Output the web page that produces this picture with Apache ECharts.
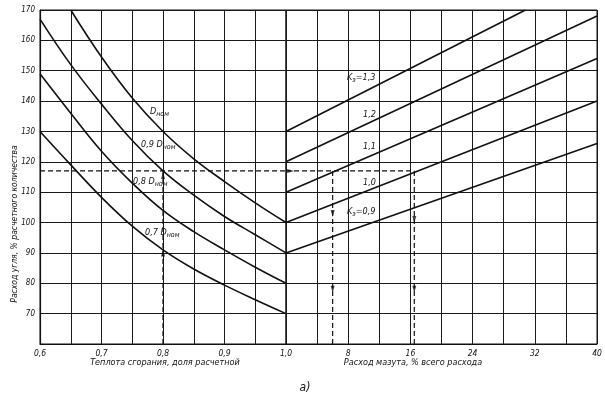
<!DOCTYPE html>
<html><head><meta charset="utf-8">
<script src="https://cdn.jsdelivr.net/npm/echarts@6/dist/echarts.min.js"></script>
<style>html,body{margin:0;padding:0;background:#fff}#c{width:605px;height:404px}</style>
</head><body><div id="c"></div>
<script>
// ---- data ----
const heatX = [0.6, 0.65, 0.7, 0.75, 0.8, 0.85, 0.9, 0.95, 1.0];
const dNom  = [null, 170, 154.5, 141, 130, 121, 113.5, 106.5, 100];
const d09   = [167, 152, 139, 127, 117, 109, 102, 96, 90];
const d08   = [149, 136, 123.5, 113, 104, 97, 91, 85.3, 80];
const d07   = [130, 119, 108.3, 98.8, 91, 84.7, 79.4, 74.6, 70];

const oilPct   = [0, 40];
const k13Pct   = [0, 30.8];
const k13      = [130, 170];
const k12      = [120, 168];
const k11      = [110, 154];
const k10      = [100, 140];
const k09      = [90, 126];

const guideLevel = 117;
const guideHeat  = 0.8;
const guideOil   = [6, 16.5];

// arrowheads on the guide lines: [x, y, direction]
const arrowsLeft  = [[0.8, 115.5, 'up'], [0.8, 90, 'up']];
const arrowsRight = [[6, 103, 'down'], [6, 78, 'down'], [16.5, 101, 'down'], [16.5, 78, 'down'], [0.6, 117, 'right']];

const yTicks = [70, 80, 90, 100, 110, 120, 130, 140, 150, 160, 170];

// ---- helpers ----
const FONT = "'Liberation Sans Narrow','DejaVu Sans Condensed','Liberation Sans',sans-serif";
function pairs(xs, ys) { const r = []; xs.forEach((x, i) => { if (ys[i] != null) r.push([x, ys[i]]); }); return r; }
const curveStyle = { color: '#111', width: 1.6 };
const gridCol = '#1a1a1a';
const ROT = { up: 0, down: 180, right: -90 };

function curve(data, gi, smooth) {
  return { type: 'line', xAxisIndex: gi, yAxisIndex: gi, data: data, smooth: smooth ? 0.4 : false,
           symbol: 'none', lineStyle: curveStyle, silent: true, z: 5 };
}
function guide(data, gi) {
  return { type: 'line', xAxisIndex: gi, yAxisIndex: gi, data: data, symbol: 'none',
           lineStyle: { color: '#111', width: 1.2, type: [5, 3] }, silent: true, z: 4 };
}
function arrows(list, gi) {
  return { type: 'scatter', xAxisIndex: gi, yAxisIndex: gi, symbol: 'triangle', symbolSize: [4, 7],
           itemStyle: { color: '#111' }, silent: true, z: 6,
           data: list.map(a => ({ value: [a[0], a[1]], symbolRotate: ROT[a[2]] })) };
}

const yAxisBase = {
  type: 'value', min: 60, max: 170, interval: 10,
  axisLine: { show: true, lineStyle: { color: '#111', width: 1.2 } },
  axisTick: { show: false },
  splitLine: { show: true, lineStyle: { color: gridCol, width: 1 } }
};

const option = {
  animation: false,
  backgroundColor: '#fff',
  grid: [
    { left: 40, top: 10, width: 246, height: 334, show: true, borderColor: '#111', borderWidth: 1 },
    { left: 286, top: 10, width: 311, height: 334, show: true, borderColor: '#111', borderWidth: 1 }
  ],
  xAxis: [
    { type: 'value', gridIndex: 0, min: 0.6, max: 1.0, interval: 0.05,
      axisLine: { lineStyle: { color: '#111', width: 1.2 } }, axisTick: { show: false },
      splitLine: { show: true, lineStyle: { color: gridCol, width: 1 } },
      axisLabel: { margin: 5, fontSize: 8.5, fontStyle: 'italic', fontFamily: FONT, color: '#111',
        showMaxLabel: true, showMinLabel: true,
        formatter: v => (Math.round(v * 100) % 10 === 0) ? v.toFixed(1).replace('.', ',') : '' } },
    { type: 'value', gridIndex: 1, min: 0, max: 40, interval: 4,
      axisLine: { lineStyle: { color: '#111', width: 1.2 } }, axisTick: { show: false },
      splitLine: { show: true, lineStyle: { color: gridCol, width: 1 } },
      axisLabel: { margin: 5, fontSize: 8.5, fontStyle: 'italic', fontFamily: FONT, color: '#111',
        showMaxLabel: true,
        formatter: v => (v > 0 && v % 8 === 0) ? String(v) : '' } }
  ],
  yAxis: [
    Object.assign({}, yAxisBase, { gridIndex: 0,
      axisLabel: { margin: 5, fontSize: 8, fontStyle: 'italic', fontFamily: FONT, color: '#111',
        formatter: v => yTicks.indexOf(v) >= 0 ? String(v) : '' } }),
    Object.assign({}, yAxisBase, { gridIndex: 1, axisLine: { show: false }, axisLabel: { show: false } })
  ],
  series: [
    curve(pairs(heatX, dNom), 0, true),
    curve(pairs(heatX, d09), 0, true),
    curve(pairs(heatX, d08), 0, true),
    curve(pairs(heatX, d07), 0, true),
    curve(pairs(k13Pct, k13), 1, false),
    curve(pairs(oilPct, k12), 1, false),
    curve(pairs(oilPct, k11), 1, false),
    curve(pairs(oilPct, k10), 1, false),
    curve(pairs(oilPct, k09), 1, false),
    guide([[0.6, guideLevel], [1.0, guideLevel]], 0),
    guide([[guideHeat, 60], [guideHeat, guideLevel]], 0),
    guide([[0, guideLevel], [guideOil[1], guideLevel]], 1),
    guide([[guideOil[0], guideLevel], [guideOil[0], 60]], 1),
    guide([[guideOil[1], guideLevel], [guideOil[1], 60]], 1),
    arrows(arrowsLeft, 0),
    arrows(arrowsRight, 1)
  ],
  graphic: [
    { type: 'text', x: 15, y: 224, rotation: Math.PI / 2,
      style: { text: 'Расход угля, % расчетного количества', font: "italic 8.5px " + FONT, fill: '#111',
               align: 'center', verticalAlign: 'middle', textAlign: 'center', textVerticalAlign: 'middle' } },
    { type: 'text', x: 165, y: 363,
      style: { text: 'Теплота сгорания, доля расчетной', font: "italic 9px " + FONT, fill: '#111',
               align: 'center', verticalAlign: 'middle', textAlign: 'center', textVerticalAlign: 'middle' } },
    { type: 'text', x: 413, y: 363,
      style: { text: 'Расход мазута, % всего расхода', font: "italic 9px " + FONT, fill: '#111',
               align: 'center', verticalAlign: 'middle', textAlign: 'center', textVerticalAlign: 'middle' } },
    { type: 'text', x: 305, y: 388,
      style: { text: 'а)', font: "italic 12px " + FONT, fill: '#111',
               align: 'center', verticalAlign: 'middle', textAlign: 'center', textVerticalAlign: 'middle' } }
  ].concat([
    ['{i|D}{s|ном}', 150, 112],
    ['{i|0,9 D}{s|ном}', 141, 145],
    ['{i|0,8 D}{s|ном}', 133, 182],
    ['{i|0,7 D}{s|ном}', 145, 233],
    ['{i|K}{s|э}{i|=1,3}', 347, 78],
    ['{i|1,2}', 363, 115],
    ['{i|1,1}', 363, 147],
    ['{i|1,0}', 363, 183],
    ['{i|K}{s|э}{i|=0,9}', 347, 212]
  ].map(t => ({ type: 'text', x: t[1], y: t[2],
      style: { text: t[0], fill: '#111', align: 'left', verticalAlign: 'middle', textAlign: 'left', textVerticalAlign: 'middle',
        rich: { i: { fontSize: 9, fontStyle: 'italic', fontFamily: FONT, fill: '#111', color: '#111' },
                s: { fontSize: 7, fontStyle: 'italic', fontFamily: FONT, fill: '#111', color: '#111', padding: [5, 0, 0, 0] } } } })))
};

echarts.init(document.getElementById('c'), null, { renderer: 'canvas' }).setOption(option);
</script>
</body></html>
